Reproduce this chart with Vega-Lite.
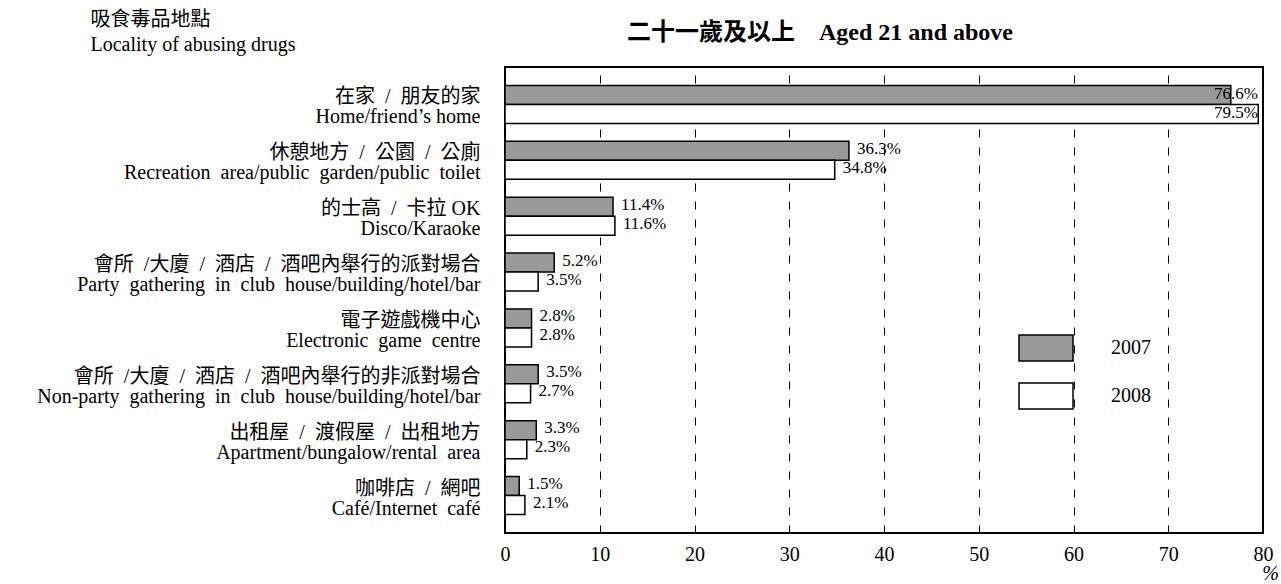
{
  "$schema": "https://vega.github.io/schema/vega-lite/v6.json",
  "width": 758,
  "height": 466,
  "autosize": {"type": "none"},
  "padding": {"left": 505, "top": 67, "right": 18, "bottom": 51},
  "background": "white",
  "config": {
    "font": "Liberation Serif, Noto Sans CJK TC",
    "view": {"stroke": "black", "strokeWidth": 2}
  },
  "title": {
    "text": "二十一歲及以上\u00a0\u00a0\u00a0\u00a0Aged 21 and above",
    "fontSize": 24,
    "fontWeight": "bold",
    "anchor": "start",
    "frame": "group",
    "dx": 122,
    "dy": 55,
    "baseline": "alphabetic",
    "offset": 0,
    "color": "black",
    "font": "Liberation Serif, Noto Sans CJK TC"
  },
  "data": {
    "values": [
      {"cat": "在家\u00a0 /\u00a0 朋友的家|Home/friend’s home", "year": "2007", "value": 76.6},
      {"cat": "在家\u00a0 /\u00a0 朋友的家|Home/friend’s home", "year": "2008", "value": 79.5},
      {"cat": "休憩地方\u00a0 /\u00a0 公園\u00a0 /\u00a0 公廁|Recreation \u00a0area/public \u00a0garden/public \u00a0toilet", "year": "2007", "value": 36.3},
      {"cat": "休憩地方\u00a0 /\u00a0 公園\u00a0 /\u00a0 公廁|Recreation \u00a0area/public \u00a0garden/public \u00a0toilet", "year": "2008", "value": 34.8},
      {"cat": "的士高\u00a0 /\u00a0 卡拉 OK|Disco/Karaoke", "year": "2007", "value": 11.4},
      {"cat": "的士高\u00a0 /\u00a0 卡拉 OK|Disco/Karaoke", "year": "2008", "value": 11.6},
      {"cat": "會所\u00a0 /大廈\u00a0 /\u00a0 酒店\u00a0 /\u00a0 酒吧內舉行的派對場合|Party \u00a0gathering \u00a0in \u00a0club \u00a0house/building/hotel/bar", "year": "2007", "value": 5.2},
      {"cat": "會所\u00a0 /大廈\u00a0 /\u00a0 酒店\u00a0 /\u00a0 酒吧內舉行的派對場合|Party \u00a0gathering \u00a0in \u00a0club \u00a0house/building/hotel/bar", "year": "2008", "value": 3.5},
      {"cat": "電子遊戲機中心|Electronic \u00a0game \u00a0centre", "year": "2007", "value": 2.8},
      {"cat": "電子遊戲機中心|Electronic \u00a0game \u00a0centre", "year": "2008", "value": 2.8},
      {"cat": "會所\u00a0 /大廈\u00a0 /\u00a0 酒店\u00a0 /\u00a0 酒吧內舉行的非派對場合|Non-party \u00a0gathering \u00a0in \u00a0club \u00a0house/building/hotel/bar", "year": "2007", "value": 3.5},
      {"cat": "會所\u00a0 /大廈\u00a0 /\u00a0 酒店\u00a0 /\u00a0 酒吧內舉行的非派對場合|Non-party \u00a0gathering \u00a0in \u00a0club \u00a0house/building/hotel/bar", "year": "2008", "value": 2.7},
      {"cat": "出租屋\u00a0 /\u00a0 渡假屋\u00a0 /\u00a0 出租地方|Apartment/bungalow/rental \u00a0area", "year": "2007", "value": 3.3},
      {"cat": "出租屋\u00a0 /\u00a0 渡假屋\u00a0 /\u00a0 出租地方|Apartment/bungalow/rental \u00a0area", "year": "2008", "value": 2.3},
      {"cat": "咖啡店\u00a0 /\u00a0 網吧|Café/Internet \u00a0café", "year": "2007", "value": 1.5},
      {"cat": "咖啡店\u00a0 /\u00a0 網吧|Café/Internet \u00a0café", "year": "2008", "value": 2.1}
    ]
  },
  "encoding": {
    "y": {
      "field": "cat",
      "type": "nominal",
      "sort": null,
      "scale": {"paddingInner": 0.32, "paddingOuter": 0.33},
      "axis": {
        "domain": false,
        "ticks": false,
        "tickSize": 0,
        "grid": false,
        "labelExpr": "split(datum.label, '|')",
        "labelFontSize": 20,
        "labelLineHeight": 20,
        "labelOffset": -7,
        "labelPadding": 25,
        "labelLimit": 700,
        "labelColor": "black",
        "labelAlign": "right",
        "labelBaseline": "middle",
        "title": ["吸食毒品地點", "Locality of abusing drugs"],
        "titleAngle": 0,
        "titleAlign": "left",
        "titleBaseline": "top",
        "titleX": -415,
        "titleY": -58,
        "titleFontSize": 20,
        "titleFontWeight": "normal",
        "titleLineHeight": 25,
        "titleColor": "black"
      }
    },
    "yOffset": {
      "field": "year",
      "type": "nominal",
      "scale": {"paddingInner": 0, "paddingOuter": 0}
    }
  },
  "layer": [
    {
      "mark": {"type": "bar", "stroke": "black", "strokeWidth": 1.5},
      "encoding": {
        "x": {
          "field": "value",
          "type": "quantitative",
          "scale": {"domain": [0, 80], "nice": false},
          "axis": {
            "values": [0, 10, 20, 30, 40, 50, 60, 70, 80],
            "grid": true,
            "gridDash": [8, 10],
            "gridColor": "black",
            "gridWidth": 1,
            "gridOpacity": 1,
            "ticks": false,
            "tickSize": 0,
            "domain": false,
            "labelFontSize": 20,
            "labelColor": "black",
            "labelPadding": 11,
            "labelFlush": false,
            "title": "%",
            "titleFontStyle": "italic",
            "titleFontWeight": "normal",
            "titleFontSize": 20,
            "titleX": 765,
            "titleY": 40,
            "titleAlign": "center",
            "titleBaseline": "middle",
            "titleColor": "black"
          }
        },
        "fill": {
          "field": "year",
          "type": "nominal",
          "scale": {"domain": ["2007", "2008"], "range": ["#999999", "#ffffff"]},
          "legend": {
            "orient": "none",
            "legendX": 513,
            "legendY": 253,
            "title": null,
            "padding": 0,
            "symbolType": "M-1,-0.48H1V0.48H-1Z",
            "symbolSize": 2916,
            "symbolStrokeColor": "black",
            "symbolStrokeWidth": 1.5,
            "symbolOpacity": 1,
            "labelFontSize": 20,
            "labelOffset": 37,
            "labelColor": "black",
            "rowPadding": 4
          }
        }
      }
    },
    {
      "transform": [
        {"filter": "datum.value < 70"},
        {"calculate": "format(datum.value, '.1f') + '%'", "as": "lbl"}
      ],
      "mark": {"type": "text", "align": "left", "baseline": "middle", "dx": 8, "dy": -2, "fontSize": 17, "color": "black"},
      "encoding": {
        "x": {"field": "value", "type": "quantitative"},
        "text": {"field": "lbl"}
      }
    },
    {
      "transform": [
        {"filter": "datum.value >= 70"},
        {"calculate": "format(datum.value, '.1f') + '%'", "as": "lbl"}
      ],
      "mark": {"type": "text", "align": "right", "baseline": "middle", "dx": -5, "dy": -1, "fontSize": 17, "color": "black"},
      "encoding": {
        "x": {"datum": 80, "type": "quantitative"},
        "text": {"field": "lbl"}
      }
    }
  ]
}
